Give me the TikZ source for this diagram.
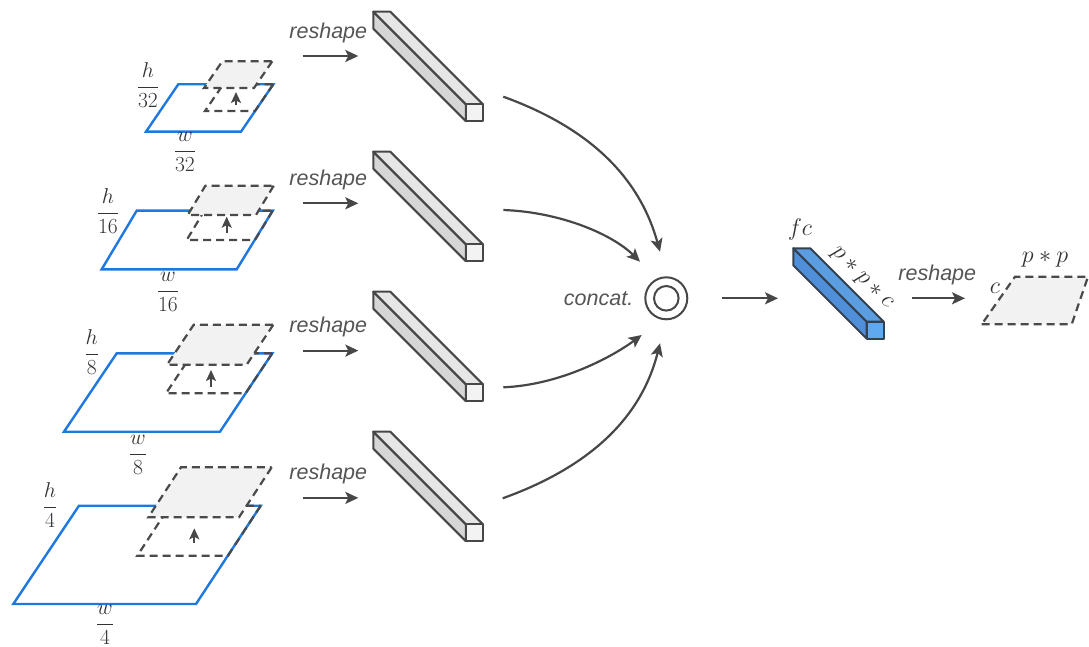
\RequirePackage{fix-cm}
\documentclass[tikz,border=0pt]{standalone}
\usepackage{amsmath}
\usepackage{fontspec}
\newfontfamily\opfont{Liberation Sans}
\usetikzlibrary{arrows.meta}

\definecolor{planeblue}{HTML}{1E78E0}
\definecolor{dashgray}{HTML}{4A4A4A}
\definecolor{planefill}{HTML}{F2F2F2}
\definecolor{arrowgray}{HTML}{474747}
\definecolor{textgray}{HTML}{555555}
\definecolor{labelgray}{HTML}{333333}
\definecolor{edgegray}{HTML}{474747}
\definecolor{bartop}{HTML}{E6E6E6}
\definecolor{barside}{HTML}{D6D6D6}
\definecolor{barfront}{HTML}{F3F3F3}
\definecolor{fctop}{HTML}{5C9CE0}
\definecolor{fcside}{HTML}{4F8FDA}
\definecolor{fcfront}{HTML}{5FA9F0}
\definecolor{fcedge}{HTML}{34414F}

% long box seen in perspective:
% #1,#2 back top-left corner, #3 side, #4 depth,
% #5 top fill, #6 side fill, #7 front fill, #8 edge colour
\newcommand{\tensorbar}[8]{%
  \filldraw[barline, fill=#6, draw=#8] (#1,#2) -- ++(#4,#4) -- ++(0,#3) -- ++(-#4,-#4) -- cycle;
  \filldraw[barline, fill=#5, draw=#8] (#1,#2) -- ++(#3,0) -- ++(#4,#4) -- ++(-#3,0) -- cycle;
  \filldraw[barline, fill=#7, draw=#8] (#1+#4,#2+#4) rectangle ++(#3,#3);
}

\begin{document}
\begin{tikzpicture}[x=1pt,y=-1pt,
  blueplane/.style={draw=planeblue, line width=2.4pt},
  dashplane/.style={draw=dashgray, line width=2.2pt, dash pattern=on 8pt off 5pt},
  topplane/.style={dashplane, fill=planefill},
  barline/.style={line width=2pt, line join=round},
  flow/.style={draw=arrowgray, line width=2.2pt, -{Stealth[length=13pt,width=12pt,inset=3pt]}},
  lift/.style={draw=arrowgray, line width=2pt, -{Stealth[length=11pt,width=10pt,inset=2.5pt]}},
  opname/.style={font=\opfont\itshape\fontsize{21.5}{25}\selectfont, text=textgray, inner sep=0pt},
  dimlabel/.style={font=\fontsize{21.5}{25}\selectfont, text=labelgray, inner sep=0pt},
  symlabel/.style={font=\fontsize{24}{28}\selectfont, text=labelgray, inner sep=0pt}]
\useasboundingbox (0,0) rectangle (1089,647);

% ---------- feature maps with a sliding window ----------
% 1/32
\draw[blueplane] (146,131.7) -- (241,131.7) -- (273.3,84.3) -- (178.3,84.3) -- cycle;
\draw[dashplane] (273.3,84.3) -- (255,111) -- (205,111) -- (223.3,84.3) -- cycle;
\draw[topplane, shift={(-1,-23)}] (273.3,84.3) -- (255,111) -- (205,111) -- (223.3,84.3) -- cycle;
\coordinate (u1a) at (236,105);
\coordinate (u1b) at (236,92);
\draw[lift] (u1a) -- (u1b);
\node[dimlabel] (h32) at (148,85) {$\dfrac{h}{32}$};
\node[dimlabel] (w32) at (185,152) {$\dfrac{w}{32}$};

% 1/16
\draw[blueplane] (101.7,269.3) -- (236.7,269.3) -- (272.7,210.7) -- (136.7,210.7) -- cycle;
\draw[dashplane] (272.7,210.7) -- (255,240) -- (186.7,240) -- (204.4,210.7) -- cycle;
\draw[topplane, shift={(1,-25)}] (272.7,210.7) -- (255,240) -- (186.7,240) -- (204.4,210.7) -- cycle;
\coordinate (u2a) at (226.7,233);
\coordinate (u2b) at (226.7,216.7);
\draw[lift] (u2a) -- (u2b);
\node[dimlabel] (h16) at (108,211) {$\dfrac{h}{16}$};
\node[dimlabel] (w16) at (168,292) {$\dfrac{w}{16}$};

% 1/8
\draw[blueplane] (64,431.7) -- (220,431.7) -- (272.3,353.3) -- (116.7,353.3) -- cycle;
\draw[dashplane] (272.3,353.3) -- (245.6,393.3) -- (166,393.3) -- (192.7,353.3) -- cycle;
\draw[topplane, shift={(1,-28.5)}] (272.3,353.3) -- (245.6,393.3) -- (166,393.3) -- (192.7,353.3) -- cycle;
\coordinate (u3a) at (211,386.7);
\coordinate (u3b) at (211,370);
\draw[lift] (u3a) -- (u3b);
\node[dimlabel] (h8) at (91.7,352) {$\dfrac{h}{8}$};
\node[dimlabel] (w8) at (138,455) {$\dfrac{w}{8}$};

% 1/4
\draw[blueplane] (13.3,604) -- (196,604) -- (260.7,505.7) -- (79,505.7) -- cycle;
\draw[dashplane] (260.7,505.7) -- (228,555.7) -- (137.3,555.7) -- (170,505.7) -- cycle;
\draw[topplane, shift={(11,-38.4)}] (260.7,505.7) -- (228,555.7) -- (137.3,555.7) -- (170,505.7) -- cycle;
\coordinate (u4a) at (194.3,543.3);
\coordinate (u4b) at (194.3,528.3);
\draw[lift] (u4a) -- (u4b);
\node[dimlabel] (h4) at (50,505) {$\dfrac{h}{4}$};
\node[dimlabel] (w4) at (105,625) {$\dfrac{w}{4}$};

% ---------- reshape into vectors ----------
\foreach \k in {0,1,2,3}{
  \pgfmathsetmacro{\ay}{56+147.3*\k}
  \pgfmathsetmacro{\by}{11.7+140*\k}
  \node[opname] (rs\k) at (328.3,\ay-23.5) {reshape};
  \coordinate (rs\k a) at (302.7,\ay);
  \coordinate (rs\k b) at (358.3,\ay);
  \draw[flow] (rs\k a) -- (rs\k b);
  \tensorbar{373.3}{\by}{17}{92.5}{bartop}{barside}{barfront}{edgegray}
}

% ---------- concatenation ----------
\node[circle, draw=arrowgray, line width=2pt, minimum size=42pt, inner sep=0pt] (cat) at (666.3,298.3) {};
\node[circle, draw=arrowgray, line width=2pt, minimum size=24.6pt, inner sep=0pt] (catin) at (cat.center) {};
\node[opname, anchor=east] (catname) at (633.5,298.3) {concat.};

\coordinate (v1a) at (503.3,96.7);  \coordinate (v1b) at (660,251.7);
\coordinate (v2a) at (503.3,210);   \coordinate (v2b) at (640,261.7);
\coordinate (v3a) at (503.3,387.3); \coordinate (v3b) at (641.7,335);
\coordinate (v4a) at (502.7,498.3); \coordinate (v4b) at (660,343.3);
\draw[flow] (v1a) .. controls (583,125.6) and (638,172) .. (v1b);
\draw[flow] (v2a) .. controls (560,212) and (612,234) .. (v2b);
\draw[flow] (v3a) .. controls (560,385) and (612,357) .. (v3b);
\draw[flow] (v4a) .. controls (583,469.4) and (640,423) .. (v4b);

% ---------- fully connected layer ----------
\coordinate (fca) at (722,298.3);
\coordinate (fcb) at (778,298.3);
\draw[flow] (fca) -- (fcb);
\tensorbar{793.3}{248.3}{17}{73.4}{fctop}{fcside}{fcfront}{fcedge}
\node[symlabel] (fcname) at (800,229) {$fc$};
\node[symlabel, rotate=-45] (fcsize) at (861.5,278.5) {$p*p*c$};

% ---------- reshape to the output map ----------
\coordinate (oa) at (911.7,298.3);
\coordinate (ob) at (965,298.3);
\draw[flow] (oa) -- (ob);
\node[opname] (rsout) at (937.3,274.5) {reshape};
\draw[topplane] (981.7,324.3) -- (1071.7,324.3) -- (1088,276.7) -- (1015,276.7) -- cycle;
\node[symlabel] (cname) at (995,288) {$c$};
\node[symlabel] (ppname) at (1045,259) {$p*p$};
\end{tikzpicture}
\end{document}
